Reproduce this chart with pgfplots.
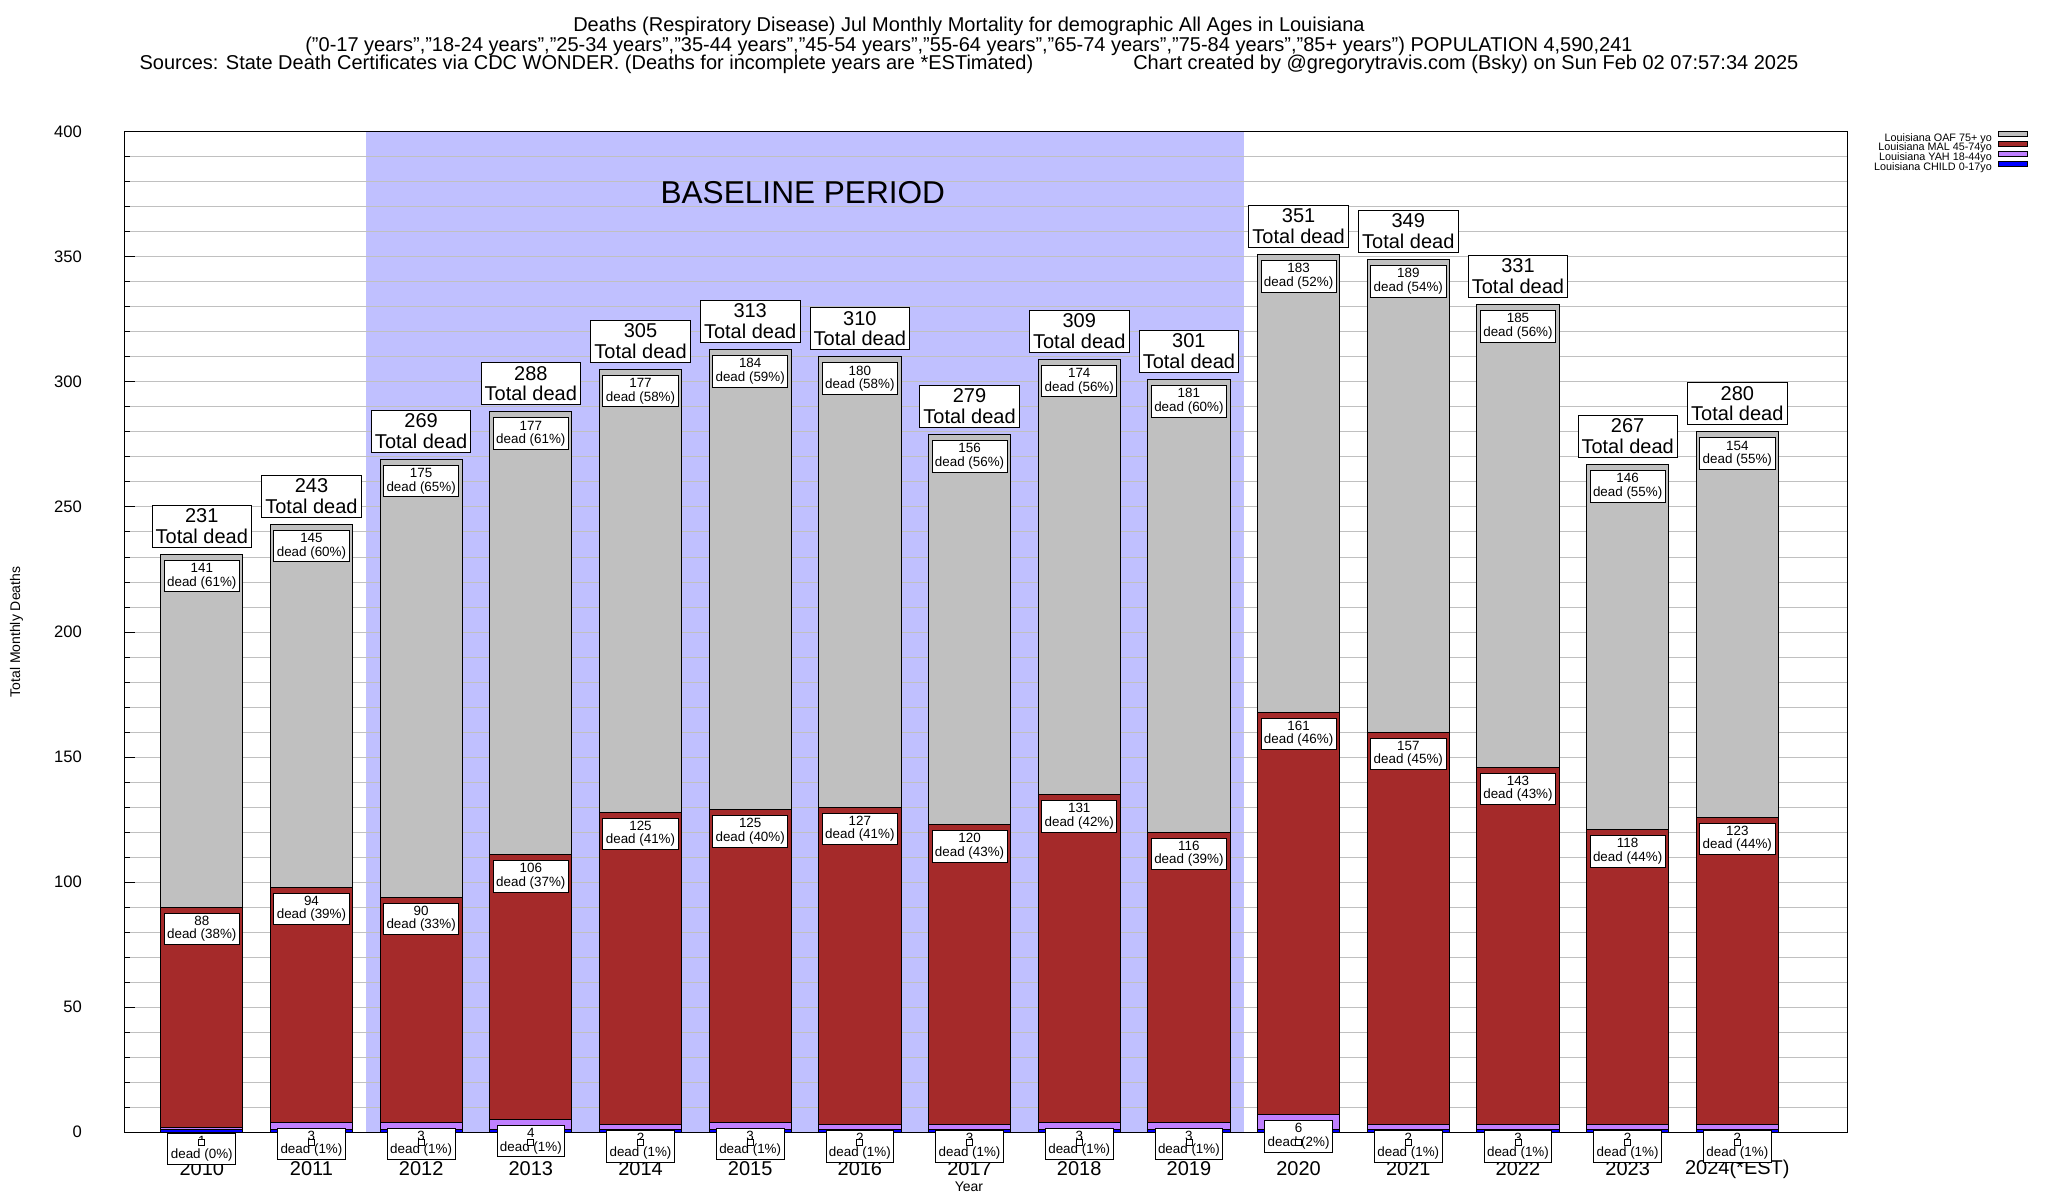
\documentclass[border=0pt]{standalone}
\usepackage{fontspec}
\setmainfont{Liberation Sans}
\usepackage{pgfplots}
\usepackage{pgfplotstable}
\pgfplotsset{compat=1.18}
\definecolor{oafc}{RGB}{192,192,192}
\definecolor{malc}{RGB}{165,42,42}
\definecolor{yahc}{RGB}{192,128,255}
\definecolor{childc}{RGB}{0,0,255}
\definecolor{shadec}{RGB}{192,192,255}
\definecolor{gridc}{RGB}{192,192,192}
% child, yah, mal, oaf: segment values; c1..c4: tops of the stacked segments
\pgfplotstableread{
x child yah mal oaf total oafp malp yahp c1 c2 c3 c4
0 1 1 88 141 231 61 38 0 1 2 90 231
1 1 3 94 145 243 60 39 1 1 4 98 243
2 1 3 90 175 269 65 33 1 1 4 94 269
3 1 4 106 177 288 61 37 1 1 5 111 288
4 1 2 125 177 305 58 41 1 1 3 128 305
5 1 3 125 184 313 59 40 1 1 4 129 313
6 1 2 127 180 310 58 41 1 1 3 130 310
7 1 3 120 156 279 56 43 1 1 3 123 279
8 1 3 131 174 309 56 42 1 1 4 135 309
9 1 3 116 181 301 60 39 1 1 4 120 301
10 1 6 161 183 351 52 46 2 1 7 168 351
11 1 2 157 189 349 54 45 1 1 3 160 349
12 1 3 143 185 331 56 43 1 1 3 146 331
13 1 2 118 146 267 55 44 1 1 3 121 267
14 1 2 123 154 280 55 44 1 1 3 126 280
}\data
\tikzset{
  inlabel/.style={fill=white, draw=black, line width=0.4pt, align=center, font=\fontsize{6.7}{6.7}\selectfont, inner sep=1.5pt, anchor=north, yshift=-2.75pt},
  totlabel/.style={fill=white, draw=black, line width=0.4pt, align=center, font=\fontsize{10}{10.3}\selectfont, inner sep=1.8pt, anchor=south, yshift=3.5pt},
}
\pgfplotsset{
  mylegend/.style={legend image code/.code={\draw[##1,draw=black,line width=0.4pt] (0pt,0.6pt) rectangle (14.5pt,3.1pt);}},
  samebox/.style={at={(0,0)}, anchor=south west, width=861pt, height=500pt, scale only axis,
    xmin=-0.7, xmax=15, ymin=0, ymax=400, clip=false, /pgf/number format/assume math mode=true},
}
\begin{document}
\begin{tikzpicture}
\path[use as bounding box] (-62.5pt,-34pt) rectangle (961.5pt,566pt);
\begin{axis}[samebox, hide axis]
\fill[shadec] (axis cs:1.5,0) rectangle (axis cs:9.5,400);
\end{axis}
\begin{axis}[
  samebox,
  ybar, bar width=0.75, bar shift=0pt,
  xtick={0,...,14},
  xticklabels={2010,2011,2012,2013,2014,2015,2016,2017,2018,2019,2020,2021,2022,2023,2024(*EST)},
  x tick style={draw=none},
  ytick={0,50,...,400}, minor y tick num=4,
  ymajorgrids, yminorgrids,
  major grid style={draw=gridc, line width=0.5pt},
  minor grid style={draw=gridc, line width=0.5pt},
  tick align=inside, ytick pos=left,
  major tick length=5pt, minor tick length=2.5pt,
  y tick style={black, line width=0.5pt},
  axis line style={line width=0.5pt},
  yticklabel style={font=\fontsize{8.3}{8.3}\selectfont, xshift=-18pt},
  xticklabel style={font=\fontsize{10}{10}\selectfont, anchor=center, yshift=-18.5pt},
  xlabel={Year},
  xlabel style={font=\fontsize{7}{7}\selectfont, at={(axis description cs:0.4901,-0.055)}, anchor=center},
  ylabel={Total Monthly Deaths},
  ylabel style={font=\fontsize{7}{7}\selectfont, at={(axis description cs:-0.063,0.5)}, anchor=center},
  legend style={at={(axis description cs:1.1086,1.005)}, anchor=north east, draw=none, fill=none,
    font=\fontsize{5.4}{5.4}\selectfont, row sep=-0.6pt, column sep=3pt,
    nodes={inner sep=0pt, text height=3.8pt, text depth=0.7pt}},
  legend cell align=right, legend plot pos=right,
]
\node[font=\fontsize{15.8}{16}\selectfont] at (axis cs:5.48,375.6) {BASELINE PERIOD};
\addplot[fill=oafc, draw=black, line width=0.5pt, mylegend] table[x=x,y=c4]{\data};
\addlegendentry{Louisiana OAF 75+ yo}
\addplot[fill=malc, draw=black, line width=0.5pt, mylegend] table[x=x,y=c3]{\data};
\addlegendentry{Louisiana MAL 45-74yo}
\addplot[fill=yahc, draw=black, line width=0.5pt, mylegend] table[x=x,y=c2]{\data};
\addlegendentry{Louisiana YAH 18-44yo}
\addplot[fill=childc, draw=black, line width=0.5pt, mylegend] table[x=x,y=c1]{\data};
\addlegendentry{Louisiana CHILD 0-17yo}
\end{axis}
\begin{axis}[samebox, hide axis]
\addplot[draw=none, mark=none, point meta=explicit,
  visualization depends on={\thisrow{oafp}\as\pct},
  nodes near coords={\pgfmathprintnumber{\pgfplotspointmeta}\\dead (\pgfmathprintnumber{\pct}\%)},
  every node near coord/.append style={inlabel}] table[x=x,y=c4,meta=oaf]{\data};
\addplot[draw=none, mark=none, point meta=explicit,
  visualization depends on={\thisrow{malp}\as\pct},
  nodes near coords={\pgfmathprintnumber{\pgfplotspointmeta}\\dead (\pgfmathprintnumber{\pct}\%)},
  every node near coord/.append style={inlabel}] table[x=x,y=c3,meta=mal]{\data};
\addplot[draw=none, mark=none, point meta=explicit,
  visualization depends on={\thisrow{yahp}\as\pct},
  nodes near coords={\pgfmathprintnumber{\pgfplotspointmeta}\\dead (\pgfmathprintnumber{\pct}\%)},
  every node near coord/.append style={inlabel}] table[x=x,y=c2,meta=yah]{\data};
\addplot[draw=none, mark=none, point meta=explicit,
  nodes near coords={\pgfmathprintnumber{\pgfplotspointmeta}\\Total dead},
  every node near coord/.append style={totlabel}] table[x=x,y=c4,meta=total]{\data};
\addplot[only marks, mark=square*, mark size=1.5pt,
  mark options={fill=white, draw=black, line width=0.4pt, yshift=-6.25pt}] table[x=x,y=c1]{\data};
\end{axis}
\begin{scope}[every node/.style={font=\fontsize{10}{10}\selectfont, anchor=base}]
\node at (422pt,550.2pt) {Deaths (Respiratory Disease) Jul Monthly Mortality for demographic All Ages in Louisiana};
\node at (422pt,540.4pt) {("0-17 years","18-24 years","25-34 years","35-44 years","45-54 years","55-64 years","65-74 years","75-84 years","85+ years") POPULATION 4,590,241};
\node at (422pt,531.2pt) {Sources: State Death Certificates via CDC WONDER. (Deaths for incomplete years are *ESTimated)\hspace{50pt}Chart created by @gregorytravis.com (Bsky) on Sun Feb 02 07:57:34 2025};
\end{scope}
\end{tikzpicture}
\end{document}
